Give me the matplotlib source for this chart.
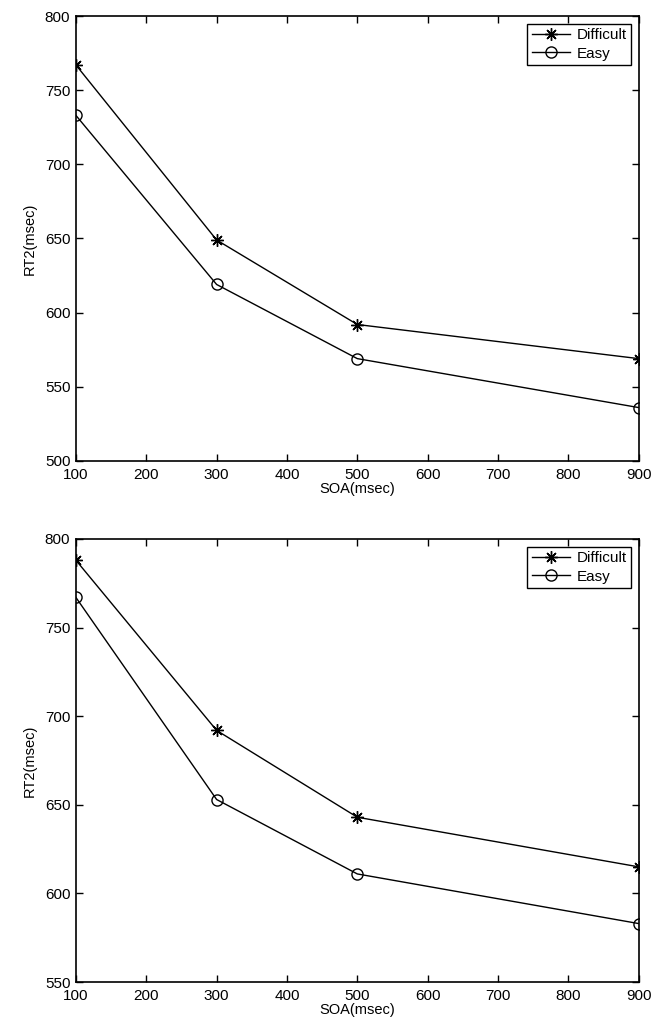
import matplotlib
matplotlib.use("Agg")
import matplotlib.pyplot as plt

plt.rcParams['font.family'] = ['Liberation Sans', 'DejaVu Sans']

soa = [100, 300, 500, 900]
top_difficult = [767, 649, 592, 569]
top_easy = [733, 619, 569, 536]
bot_difficult = [788, 692, 643, 615]
bot_easy = [767, 653, 611, 583]

x_ticks = [100, 200, 300, 400, 500, 600, 700, 800, 900]
top_yticks = [500, 550, 600, 650, 700, 750, 800]
bot_yticks = [550, 600, 650, 700, 750, 800]

fig = plt.figure(figsize=(6.66, 10.28), dpi=100)
ax1 = fig.add_axes([0.114, 0.5516, 0.845, 0.4328])
ax2 = fig.add_axes([0.114, 0.0447, 0.845, 0.4310])

def style(ax, diff, easy, yticks):
    ax.plot(soa, diff, color='black', lw=1.0, marker=(8, 2, 0), ms=9, mfc='black', mec='black',
            mew=1.0, label='Difficult')
    ax.plot(soa, easy, color='black', lw=1.0, marker='o', ms=8, mfc='none', mec='black', mew=1.0, label='Easy')
    ax.set_xlim(100, 900)
    ax.set_ylim(yticks[0], yticks[-1])
    ax.set_xticks(x_ticks)
    ax.set_yticks(yticks)
    ax.tick_params(direction='in', top=True, right=True, length=5, width=1, labelsize=11)
    ax.tick_params(axis='x', pad=5)
    ax.tick_params(axis='y', pad=4)
    for s in ax.spines.values():
        s.set_linewidth(1.2)
    ax.set_xlabel('SOA(msec)', fontsize=10.5, labelpad=0)
    ax.set_ylabel('RT2(msec)', fontsize=10.5, labelpad=6)
    leg = ax.legend(loc='upper right', fontsize=11, fancybox=False, edgecolor='black',
                    framealpha=1, handlelength=2.5, borderaxespad=0.5, borderpad=0.3,
                    labelspacing=0.3, handletextpad=0.4)
    leg.get_frame().set_linewidth(1.0)

style(ax1, top_difficult, top_easy, top_yticks)
style(ax2, bot_difficult, bot_easy, bot_yticks)

fig.savefig('out.png', dpi=100)
